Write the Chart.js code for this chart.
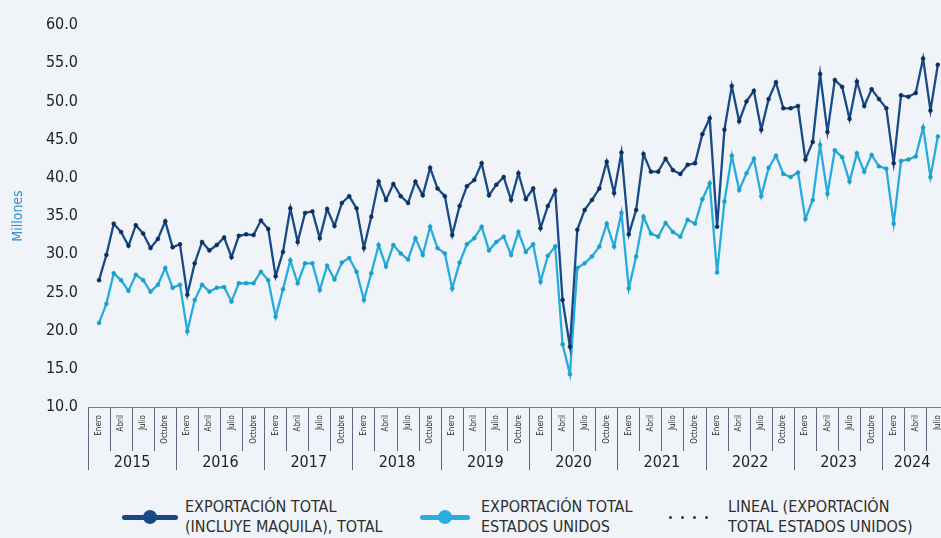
<!DOCTYPE html>
<html lang="es">
<head>
<meta charset="utf-8">
<title>Exportación total</title>
<script src="https://cdn.jsdelivr.net/npm/chart.js@4.4.1/dist/chart.umd.min.js"></script>
<style>
  html, body { margin: 0; padding: 0; width: 941px; height: 538px; overflow: hidden; background: #f0f4f9; }
  #wrap { position: absolute; left: 0; top: 0; width: 946px; height: 482px; }
  .lg { position: absolute; font-family: 'Liberation Sans Narrow', 'DejaVu Sans Condensed', 'Roboto', sans-serif;
        font-size: 16px; line-height: 20px; color: #2e2e2e; white-space: nowrap; }
  .bar { position: absolute; height: 5px; border-radius: 3px; }
  .dot { position: absolute; width: 14px; height: 14px; border-radius: 50%; }
  .tiny { position: absolute; width: 3px; height: 3px; border-radius: 50%; background: #333; }
</style>
</head>
<body>
<div id="wrap"><canvas id="exportChart" width="946" height="482"></canvas></div>

<!-- leyenda -->
<div class="bar" style="left:122px;top:515px;width:56px;background:#174a86"></div>
<div class="dot" style="left:143px;top:510px;background:#174a86"></div>
<div class="lg" style="left:185px;top:497px">EXPORTACIÓN TOTAL<br>(INCLUYE MAQUILA), TOTAL</div>

<div class="bar" style="left:420px;top:515px;width:50px;background:#2aaee0"></div>
<div class="dot" style="left:438px;top:510px;background:#2aaee0"></div>
<div class="lg" style="left:481px;top:497px">EXPORTACIÓN TOTAL<br>ESTADOS UNIDOS</div>

<div class="tiny" style="left:669px;top:516px"></div>
<div class="tiny" style="left:681px;top:516px"></div>
<div class="tiny" style="left:693px;top:516px"></div>
<div class="tiny" style="left:705px;top:516px"></div>
<div class="lg" style="left:728px;top:497px">LINEAL (EXPORTACIÓN<br>TOTAL ESTADOS UNIDOS)</div>

<script>
// datos mensuales, enero 2015 - julio 2024 (millones)
const years = ['2015', '2016', '2017', '2018', '2019', '2020', '2021', '2022', '2023', '2024'];
const months = ['Enero', 'Febrero', 'Marzo', 'Abril', 'Mayo', 'Junio',
  'Julio', 'Agosto', 'Septiembre', 'Octubre', 'Noviembre', 'Diciembre'];

const exportTotal = [
  26.6, 29.9, 34.0, 32.9, 31.1, 33.8, 32.7, 30.8, 32.0, 34.3, 30.9, 31.3,
  24.7, 28.8, 31.6, 30.5, 31.2, 32.2, 29.6, 32.4, 32.6, 32.5, 34.4, 33.3,
  27.1, 30.3, 36.0, 31.6, 35.4, 35.6, 32.1, 35.9, 33.7, 36.7, 37.6, 36.0,
  30.8, 34.9, 39.5, 37.1, 39.2, 37.6, 36.7, 39.5, 37.7, 41.3, 38.6, 37.6,
  32.5, 36.3, 38.9, 39.7, 41.9, 37.7, 39.1, 40.1, 37.1, 40.6, 37.2, 38.6,
  33.4, 36.3, 38.3, 24.0, 17.9, 33.2, 35.8, 37.1, 38.6, 42.1, 38.0, 43.3,
  32.6, 35.8, 43.1, 40.8, 40.8, 42.5, 41.0, 40.5, 41.7, 41.9, 45.7, 47.8,
  33.6, 46.3, 52.0, 47.4, 50.0, 51.4, 46.3, 50.3, 52.5, 49.1, 49.1, 49.4,
  42.4, 44.7, 53.6, 46.0, 52.8, 51.9, 47.7, 52.6, 49.4, 51.6, 50.3, 49.1,
  41.9, 50.8, 50.6, 51.1, 55.6, 48.8, 54.8
];

const exportUS = [
  21.0, 23.5, 27.5, 26.6, 25.2, 27.3, 26.6, 25.1, 26.0, 28.2, 25.6, 26.0,
  19.9, 24.0, 26.0, 25.1, 25.6, 25.7, 23.8, 26.2, 26.2, 26.2, 27.7, 26.6,
  21.8, 25.4, 29.2, 26.2, 28.8, 28.8, 25.3, 28.5, 26.7, 28.9, 29.5, 27.7,
  24.0, 27.5, 31.2, 28.4, 31.2, 30.1, 29.3, 32.1, 29.9, 33.6, 30.8, 30.1,
  25.5, 28.9, 31.3, 32.1, 33.6, 30.5, 31.6, 32.3, 29.9, 32.9, 30.3, 31.3,
  26.4, 29.8, 31.0, 18.2, 14.3, 28.2, 28.8, 29.7, 31.0, 34.0, 31.0, 35.4,
  25.5, 29.7, 34.9, 32.7, 32.3, 34.1, 32.9, 32.3, 34.5, 34.0, 37.2, 39.3,
  27.6, 36.9, 42.9, 38.4, 40.6, 42.5, 37.6, 41.3, 42.9, 40.5, 40.1, 40.7,
  34.6, 37.1, 44.3, 37.9, 43.6, 42.7, 39.5, 43.2, 40.8, 43.0, 41.5, 41.2,
  34.0, 42.2, 42.4, 42.8, 46.6, 40.1, 45.4
];

const yMin = 10, yMax = 60, yStep = 5;

const FONT = "'Liberation Sans Narrow', 'DejaVu Sans Condensed', 'Roboto', sans-serif";
const lastIdx = exportTotal.length - 1;
const xMin = -1.5, xMax = lastIdx + 0.5;

// ticks del eje de meses: separadores cada trimestre y etiqueta en medio
const monthSeps = new Set();
const monthTicks = [];
for (let m = 0; m <= lastIdx; m += 3) {
  monthSeps.add(m - 1.5);
  monthTicks.push(m - 1.5, m);
}

// ticks del eje de años
const yearSeps = new Set();
const yearTicks = [];
const yearLabelAt = {};
years.forEach((y, k) => {
  const start = k * 12 - 1.5;
  const end = Math.min(start + 12, xMax);
  const mid = (start + end) / 2;
  yearSeps.add(start);
  yearTicks.push(start, mid);
  yearLabelAt[mid] = y;
});

const sepColor = '#5b6880';

new Chart(document.getElementById('exportChart'), {
  type: 'line',
  data: {
    datasets: [
      {
        label: 'EXPORTACIÓN TOTAL (INCLUYE MAQUILA), TOTAL',
        data: exportTotal.map((v, i) => ({ x: i, y: v })),
        borderColor: '#174a86',
        backgroundColor: '#0c2f5c',
        pointBackgroundColor: '#0c2f5c',
        pointBorderColor: '#0c2f5c',
        borderWidth: 2.3,
        pointRadius: 2,
        pointBorderWidth: 0.5,
        tension: 0
      },
      {
        label: 'EXPORTACIÓN TOTAL ESTADOS UNIDOS',
        data: exportUS.map((v, i) => ({ x: i, y: v })),
        borderColor: '#27abdd',
        backgroundColor: '#1d9fc4',
        pointBackgroundColor: '#1d9fc4',
        pointBorderColor: '#1d9fc4',
        borderWidth: 2.3,
        pointRadius: 2,
        pointBorderWidth: 0.5,
        tension: 0
      }
    ]
  },
  options: {
    responsive: false,
    animation: false,
    layout: { padding: { top: 25, right: 2, bottom: 6, left: 0 } },
    plugins: {
      legend: { display: false },
      tooltip: { enabled: false }
    },
    scales: {
      x: {
        type: 'linear',
        position: 'bottom',
        weight: 0,
        min: xMin,
        max: xMax,
        afterBuildTicks: (scale) => { scale.ticks = monthTicks.map(v => ({ value: v })); },
        afterFit: (scale) => { scale.height = 44; },
        grid: {
          drawOnChartArea: false,
          drawTicks: true,
          tickLength: 44,
          color: (c) => (c.tick && monthSeps.has(c.tick.value)) ? sepColor : 'rgba(0,0,0,0)'
        },
        border: { display: true, color: '#6f7a8a', width: 1 },
        ticks: {
          autoSkip: false,
          minRotation: 90,
          maxRotation: 90,
          padding: -36,
          color: '#2a2a2a',
          font: { family: FONT, size: 8 },
          callback: (v) => monthSeps.has(v) ? '' : months[v % 12]
        }
      },
      x2: {
        type: 'linear',
        position: 'bottom',
        weight: 1,
        min: xMin,
        max: xMax,
        afterBuildTicks: (scale) => { scale.ticks = yearTicks.map(v => ({ value: v })); },
        afterFit: (scale) => { scale.height = 25; },
        grid: {
          drawOnChartArea: false,
          drawTicks: true,
          tickLength: 19,
          color: (c) => (c.tick && yearSeps.has(c.tick.value)) ? sepColor : 'rgba(0,0,0,0)'
        },
        border: { display: false },
        ticks: {
          autoSkip: false,
          maxRotation: 0,
          padding: -17,
          color: '#222',
          font: { family: FONT, size: 16 },
          callback: (v) => yearLabelAt[v] || ''
        }
      },
      y: {
        min: yMin,
        max: yMax,
        afterFit: (scale) => { scale.width = 88; },
        grid: { display: false, drawTicks: false },
        border: { display: false },
        ticks: {
          stepSize: yStep,
          padding: 10,
          color: '#222',
          font: { family: FONT, size: 16 },
          callback: (v) => v.toFixed(1)
        },
        title: {
          display: true,
          text: 'Millones',
          color: '#2f8fcb',
          padding: { top: 10, bottom: 0 },
          font: { family: FONT, size: 14 }
        }
      }
    }
  }
});
</script>
</body>
</html>
